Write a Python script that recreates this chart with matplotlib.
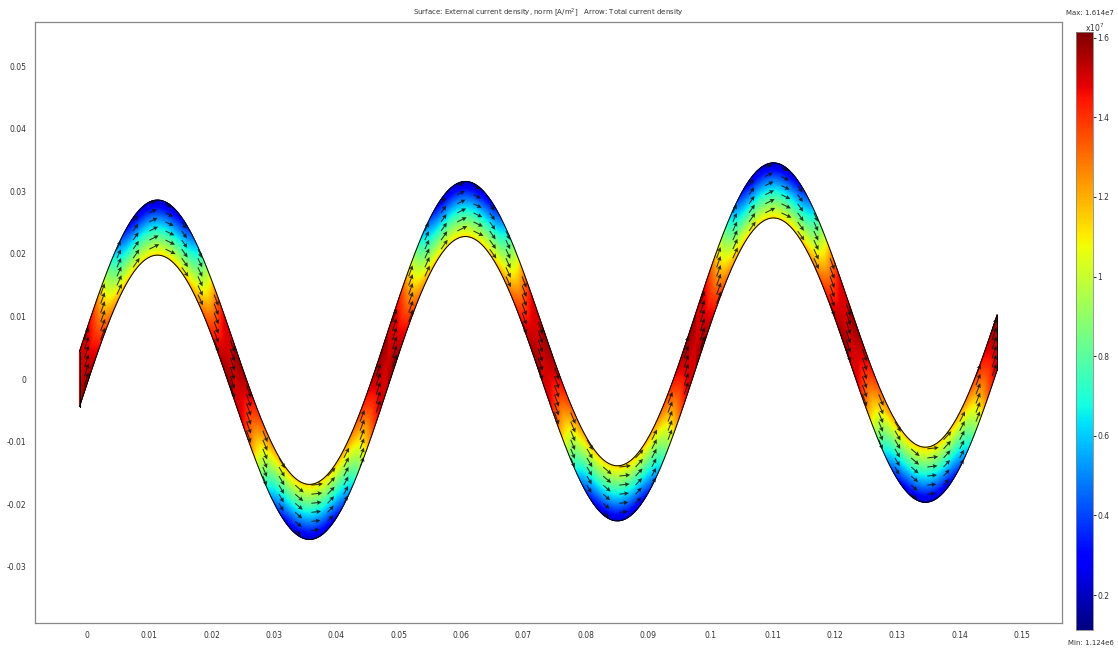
import numpy as np
import matplotlib
matplotlib.use("Agg")
import matplotlib.pyplot as plt

# ---- values ----
x_ticks = [0, 0.01, 0.02, 0.03, 0.04, 0.05, 0.06, 0.07, 0.08, 0.09, 0.10, 0.11, 0.12, 0.13, 0.14, 0.15]
x_tick_labels = ["0", "0.01", "0.02", "0.03", "0.04", "0.05", "0.06", "0.07", "0.08", "0.09",
                 "0.1", "0.11", "0.12", "0.13", "0.14", "0.15"]
y_ticks = [-0.03, -0.02, -0.01, 0, 0.01, 0.02, 0.03, 0.04, 0.05]
y_tick_labels = ["-0.03", "-0.02", "-0.01", "0", "0.01", "0.02", "0.03", "0.04", "0.05"]
cbar_ticks = [0.2, 0.4, 0.6, 0.8, 1.0, 1.2, 1.4, 1.6]
cbar_tick_labels = ["0.2", "0.4", "0.6", "0.8", "1", "1.2", "1.4", "1.6"]
j_min, j_max = 0.1124, 1.614          # x1e7 A/m^2

# conductor geometry (metres)
x_start, x_end = -0.0012, 0.1460      # band ends
wavelength = 0.0494
amplitude = 0.02345
drift = 0.0601                        # upward slope of the centre line
half_thick = 0.0044                   # vertical half thickness of the band

# current density levels (x1e7)
j_straight = 1.50
j_drop = 1.30
crowd_mean, crowd_split = 0.64, 0.36

# arrow sampling grid
arrow_dx, arrow_dy = 0.0026, 0.00145


def centre(x):
    return drift * (x - x_start) + amplitude * np.sin(2 * np.pi * (x - x_start) / wavelength)


def slope(x):
    k = 2 * np.pi / wavelength
    return drift + amplitude * k * np.cos(k * (x - x_start))


def density(x, t):
    s = np.sin(2 * np.pi * (x - x_start) / wavelength)
    u = np.clip((np.abs(s) - 0.10) / 0.90, 0, 1)
    w = 3 * u ** 2 - 2 * u ** 3
    tau = t * np.sign(s)
    j = j_straight - j_drop * w * (crowd_mean + crowd_split * tau)
    # slight crowding toward the inner side in the straight runs
    j = j + 0.08 * (1 - w) * np.clip(-tau, 0, 1)
    return np.clip(j, j_min, j_max)


fig = plt.figure(figsize=(11.18, 6.49), dpi=100)
ax = fig.add_axes([0.0313, 0.040, 0.9186, 0.926])

xs = np.linspace(x_start, x_end, 1600)
ts = np.linspace(-1, 1, 41)
X, T = np.meshgrid(xs, ts)
Y = centre(X) + T * half_thick
C = density(X, T)
mesh = ax.pcolormesh(X, Y, C, cmap="jet", vmin=j_min, vmax=j_max, shading="gouraud")

# outline
yc = centre(xs)
ax.plot(xs, yc + half_thick, color="black", lw=0.7)
ax.plot(xs, yc - half_thick, color="black", lw=0.7)
for xe in (x_start, x_end):
    ax.plot([xe, xe], [centre(xe) - half_thick, centre(xe) + half_thick], color="black", lw=0.7)

# arrows on a regular grid inside the band
gx = np.arange(-0.0004, x_end, arrow_dx)
gy = np.arange(-0.03, 0.04, arrow_dy)
GX, GY = np.meshgrid(gx, gy)
GX = GX.ravel(); GY = GY.ravel()
tt = (GY - centre(GX)) / half_thick
inside = (np.abs(tt) < 0.98) & (GX > x_start) & (GX < x_end)
GX, GY, tt = GX[inside], GY[inside], tt[inside]
m = slope(GX)
norm = np.sqrt(1 + m ** 2)
jj = density(GX, tt)
L = 0.0011 + 0.0011 * jj / j_max
U = L / norm
V = L * m / norm
ax.quiver(GX, GY, U, V, angles="xy", scale_units="xy", scale=1, pivot="tail",
          color="#111111", width=0.0010, headwidth=4.5, headlength=4.5, headaxislength=4,
          alpha=0.85, zorder=3)

ax.set_xlim(-0.00834, 0.1564)
ax.set_ylim(-0.03898, 0.05703)
ax.set_xticks(x_ticks)
ax.set_xticklabels(x_tick_labels)
ax.set_yticks(y_ticks)
ax.set_yticklabels(y_tick_labels)
ax.tick_params(axis="both", length=0, labelsize=5.5, colors="#333333")
ax.tick_params(axis="x", pad=6)
ax.tick_params(axis="y", pad=6)
for sp in ax.spines.values():
    sp.set_color("#888888")
    sp.set_linewidth(0.9)

ax.set_title(r"Surface: External current density, norm [A/m$^2$]   Arrow: Total current density",
             fontsize=5, color="#333333", pad=5)

cax = fig.add_axes([0.9624, 0.0293, 0.0152, 0.9214])
cb = fig.colorbar(mesh, cax=cax, ticks=cbar_ticks)
cb.ax.set_yticklabels(cbar_tick_labels)
cb.ax.tick_params(labelsize=5.5, length=2, colors="#333333", pad=1)
cb.outline.set_edgecolor("#888888")
cb.outline.set_linewidth(0.6)
fig.text(0.979, 0.957, r"x10$^7$", fontsize=5.5, color="#333333", ha="center", va="center")
fig.text(0.996, 0.980, "Max: 1.614e7", fontsize=5, color="#333333", ha="right", va="center")
fig.text(0.996, 0.010, "Min: 1.124e6", fontsize=5, color="#333333", ha="right", va="center")

fig.savefig("out.png", dpi=100, facecolor="white")
